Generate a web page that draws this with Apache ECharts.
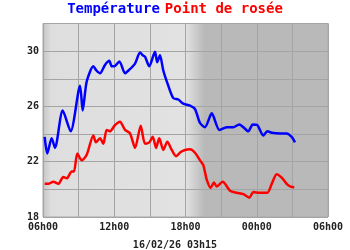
<!DOCTYPE html>
<html><head><meta charset="utf-8">
<script src="https://cdn.jsdelivr.net/npm/echarts@6/dist/echarts.min.js"></script>
<style>html,body{margin:0;padding:0;background:#fff}#c{width:350px;height:250px}</style>
</head><body><div id="c"></div>
<script>
// hours elapsed since 06h00 (16/02 06h00 -> 17/02 06h00)
const tempHours = [0.14,0.36,0.73,1.01,1.66,2.33,3.12,3.34,3.68,4.24,4.5,4.80,5.22,5.58,5.79,6.0,6.43,6.91,7.2,7.75,8.17,8.4,8.59,8.95,9.43,9.62,9.85,10.13,10.55,10.97,11.39,11.81,12.38,12.8,13.22,13.64,14.21,14.85,15.47,16.03,16.53,16.87,17.29,17.66,18.05,18.55,18.89,19.26,19.96,20.52,20.94,21.22];
const tempValues = [23.8,22.6,23.7,23.0,25.7,24.2,27.5,25.7,27.8,28.9,28.6,28.4,29.0,29.3,28.9,28.9,29.25,28.4,28.6,29.1,29.9,29.7,29.6,28.9,29.95,29.2,29.7,28.6,27.5,26.6,26.5,26.2,26.05,25.8,24.8,24.5,25.5,24.3,24.5,24.5,24.7,24.5,24.2,24.7,24.65,23.9,24.2,24.1,24.05,24.05,23.8,23.4];
const dewHours = [0.14,0.45,0.87,1.29,1.71,2.00,2.42,2.61,2.89,3.26,3.68,4.24,4.46,4.80,5.08,5.36,5.64,6.06,6.48,6.91,7.33,7.75,8.23,8.59,8.95,9.24,9.52,9.79,10.13,10.47,10.84,11.20,11.60,11.96,12.38,12.80,13.22,13.50,13.79,14.12,14.40,14.63,15.13,15.75,16.31,16.87,17.37,17.71,18.27,18.89,19.26,19.68,20.10,20.52,20.86,21.16];
const dewValues = [20.4,20.4,20.55,20.4,20.9,20.8,21.3,21.3,22.6,22.1,22.5,23.9,23.4,23.7,23.3,24.3,24.2,24.65,24.9,24.3,24.05,23.0,24.6,23.3,23.4,23.8,23.0,23.7,22.85,23.45,22.85,22.4,22.7,22.85,22.9,22.65,22.1,21.75,20.7,20.1,20.5,20.2,20.55,19.9,19.75,19.65,19.4,19.8,19.75,19.75,20.4,21.1,20.85,20.4,20.2,20.15];
const xTickLabels = ['06h00','12h00','18h00','00h00','06h00'];
const yTickLabels = [18,22,26,30];
const titleTemp = 'Température';
const titleDew = 'Point de rosée';
const footer = '16/02/26 03h15';

const chart = echarts.init(document.getElementById('c'), null, {renderer:'canvas'});
const mono = '"DejaVu Sans Mono","Liberation Mono",monospace';
const pair = (xs, ys) => xs.map((x,i)=>[x, ys[i]]);
const dayNight = new echarts.graphic.LinearGradient(0,0,1,0,[
  {offset:0,color:'#c4c4c4'},{offset:0.03,color:'#dedede'},
  {offset:0.5,color:'#e2e2e2'},{offset:0.567,color:'#b9b9b9'},{offset:1,color:'#b9b9b9'}]);
chart.setOption({
  animation:false,
  backgroundColor:'#fff',
  title:[{
    text:'{a|'+titleTemp+'} {b|'+titleDew+'}',
    left:'center', top:-5,
    textStyle:{rich:{
      a:{color:'#0000ff',fontFamily:mono,fontWeight:'bold',fontSize:14},
      b:{color:'#ff0000',fontFamily:mono,fontWeight:'bold',fontSize:14}
    }}
  },{
    text:footer, left:'center', top:235,
    textStyle:{color:'#222',fontFamily:mono,fontWeight:'bold',fontSize:10}
  }],
  grid:{left:43,right:22,top:23.5,bottom:33,show:true,borderColor:'#a8a8a8',borderWidth:1,backgroundColor:dayNight},
  xAxis:{type:'value',min:0,max:24,interval:3,
    axisLine:{show:false},axisTick:{show:false},
    splitLine:{show:true,lineStyle:{color:'#a4a4a4',width:1}},
    axisLabel:{margin:5,color:'#222',fontFamily:mono,fontWeight:'bold',fontSize:10,
      formatter:v=> v%6===0 ? xTickLabels[v/6] : ''}
  },
  yAxis:{type:'value',min:18,max:32,interval:2,
    axisLine:{show:false},axisTick:{show:false},
    splitLine:{show:true,lineStyle:{color:'#a4a4a4',width:1}},
    axisLabel:{margin:4,color:'#222',fontFamily:mono,fontWeight:'bold',fontSize:10,
      formatter:v=> yTickLabels.includes(v) ? String(v) : ''}
  },
  series:[
    {name:titleTemp,type:'line',data:pair(tempHours,tempValues),showSymbol:false,smooth:0.25,
      lineStyle:{color:'#0000ff',width:2.5},itemStyle:{color:'#0000ff'}},
    {name:titleDew,type:'line',data:pair(dewHours,dewValues),showSymbol:false,smooth:0.25,
      lineStyle:{color:'#ff0000',width:2.5},itemStyle:{color:'#ff0000'}}
  ]
});
</script></body></html>
